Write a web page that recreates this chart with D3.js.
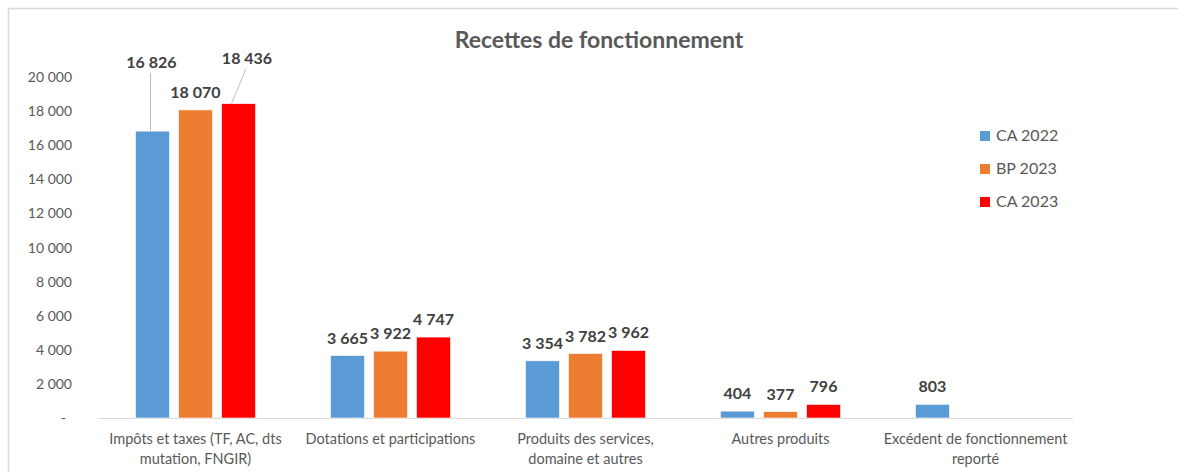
<!DOCTYPE html>
<html>
<head>
<meta charset="utf-8">
<script src="https://cdn.jsdelivr.net/npm/d3@7"></script>
<style>
  body { margin: 0; background: #fff; }
  svg text { font-family: Lato, "Open Sans", sans-serif; }
</style>
</head>
<body>
<svg id="chart" width="1178" height="472"></svg>
<script>
const categories = [
  ['Impôts et taxes (TF, AC, dts', 'mutation, FNGIR)'],
  ['Dotations et participations'],
  ['Produits des services,', 'domaine et autres'],
  ['Autres produits'],
  ['Excédent de fonctionnement', 'reporté']
];
const seriesNames = ['CA 2022', 'BP 2023', 'CA 2023'];
const ca2022 = [16826, 3665, 3354, 404, 803];
const bp2023 = [18070, 3922, 3782, 377, null];
const ca2023 = [18436, 4747, 3962, 796, null];
const yTicks = [0, 2000, 4000, 6000, 8000, 10000, 12000, 14000, 16000, 18000, 20000];
const colors = ['#5B9BD5', '#ED7D31', '#FF0000'];

const series = [ca2022, bp2023, ca2023];
const svg = d3.select('#chart');

// frame (only top and left edges are visible in the picture)
svg.append('rect')
  .attr('x', 8.5).attr('y', 8.5)
  .attr('width', 1200).attr('height', 500)
  .attr('fill', 'none').attr('stroke', '#d9d9d9').attr('stroke-width', 1.5);

const plot = { left: 98, right: 1073, top: 77, bottom: 418 };

const x0 = d3.scaleBand()
  .domain(d3.range(categories.length))
  .range([plot.left, plot.right]);
const x1 = d3.scaleBand()
  .domain(d3.range(series.length))
  .range([0, 120])
  .paddingInner(0.21);
const y = d3.scaleLinear()
  .domain([0, 20000])
  .range([plot.bottom, plot.top]);

const fmt = v => d3.format(',')(v).replace(/,/g, ' ');

// title
svg.append('text')
  .attr('x', 599).attr('y', 48)
  .attr('text-anchor', 'middle')
  .attr('font-size', 23).attr('font-weight', 'bold')
  .attr('fill', '#595959')
  .text('Recettes de fonctionnement');

// y axis labels
svg.append('g').selectAll('text')
  .data(yTicks)
  .join('text')
  .attr('x', d => d === 0 ? 66 : 72)
  .attr('y', d => y(d) + 5)
  .attr('text-anchor', 'end')
  .attr('font-size', 14)
  .attr('fill', '#595959')
  .text(d => d === 0 ? '-' : fmt(d));

// baseline
svg.append('line')
  .attr('x1', plot.left).attr('x2', plot.right)
  .attr('y1', plot.bottom + 0.5).attr('y2', plot.bottom + 0.5)
  .attr('stroke', '#d9d9d9').attr('stroke-width', 1);

// bars
const groupOffset = (x0.bandwidth() - x1.range()[1]) / 2;
const bars = [];
series.forEach((vals, s) => {
  vals.forEach((v, c) => {
    if (v == null) return;
    bars.push({ s, c, v });
  });
});

const barX = d => x0(d.c) + groupOffset + x1(d.s);

svg.append('g').selectAll('rect')
  .data(bars)
  .join('rect')
  .attr('x', barX)
  .attr('y', d => y(d.v))
  .attr('width', x1.bandwidth())
  .attr('height', d => y(0) - y(d.v))
  .attr('fill', d => colors[d.s])
  .attr('stroke', '#fff').attr('stroke-width', 0.6);

// labels (two of them moved up with leader lines, as in the picture)
const moved = {
  '0-0': { dx: -1, dy: -51, line: true },
  '2-0': { dx: 8.5, dy: -28, line: true }
};
const labels = svg.append('g');
bars.forEach(d => {
  const cx = barX(d) + x1.bandwidth() / 2;
  const top = y(d.v);
  const m = moved[d.s + '-' + d.c];
  const lx = cx + (m ? m.dx : 0);
  const ly = top - 12 + (m ? m.dy : 0);
  if (m && m.line) {
    labels.append('line')
      .attr('x1', lx - 1).attr('y1', ly + 5)
      .attr('x2', cx + (d.s === 0 ? -2 : -7)).attr('y2', top)
      .attr('stroke', '#bfbfbf').attr('stroke-width', 1);
  }
  labels.append('text')
    .attr('x', lx).attr('y', ly)
    .attr('text-anchor', 'middle')
    .attr('font-size', 16).attr('font-weight', 'bold')
    .attr('fill', '#404040')
    .text(fmt(d.v));
});

// category labels
const xl = svg.append('g').selectAll('text')
  .data(categories)
  .join('text')
  .attr('x', (d, i) => x0(i) + x0.bandwidth() / 2)
  .attr('y', 444)
  .attr('text-anchor', 'middle')
  .attr('font-size', 14.5)
  .attr('fill', '#595959');
xl.selectAll('tspan')
  .data(d => d)
  .join('tspan')
  .attr('x', function () { return d3.select(this.parentNode).attr('x'); })
  .attr('dy', (d, i) => i === 0 ? 0 : 20)
  .text(d => d);

// legend
const legend = svg.append('g').selectAll('g')
  .data(seriesNames)
  .join('g')
  .attr('transform', (d, i) => `translate(980, ${131 + i * 33})`);
legend.append('rect')
  .attr('width', 10).attr('height', 10)
  .attr('fill', (d, i) => colors[i]);
legend.append('text')
  .attr('x', 16).attr('y', 10)
  .attr('font-size', 16)
  .attr('fill', '#595959')
  .text(d => d);
</script>
</body>
</html>
